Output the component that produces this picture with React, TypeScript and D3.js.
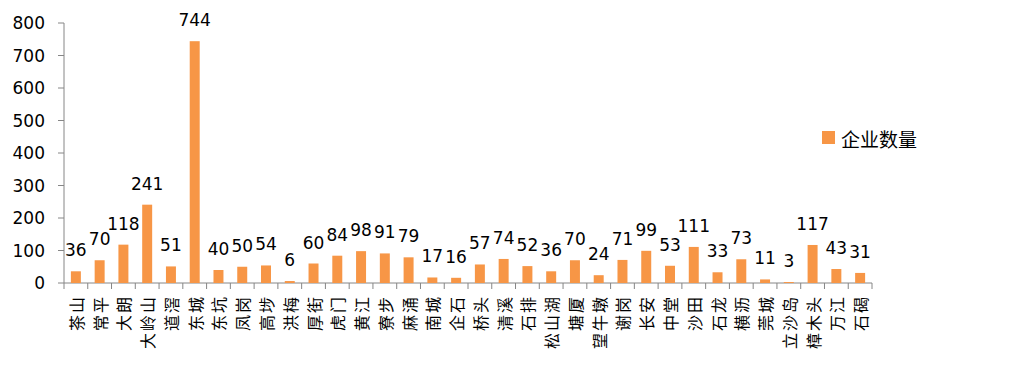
//@ts-nocheck
import React from "react";
import * as d3 from "d3";

const towns = [
  "茶山", "常平", "大朗", "大岭山", "道滘", "东城", "东坑", "凤岗", "高埗", "洪梅",
  "厚街", "虎门", "黄江", "寮步", "麻涌", "南城", "企石", "桥头", "清溪", "石排",
  "松山湖", "塘厦", "望牛墩", "谢岗", "长安", "中堂", "沙田", "石龙", "横沥", "莞城",
  "立沙岛", "樟木头", "万江", "石碣",
];
const counts = [
  36, 70, 118, 241, 51, 744, 40, 50, 54, 6,
  60, 84, 98, 91, 79, 17, 16, 57, 74, 52,
  36, 70, 24, 71, 99, 53, 111, 33, 73, 11,
  3, 117, 43, 31,
];
const yTicks = [0, 100, 200, 300, 400, 500, 600, 700, 800];
const seriesName = "企业数量";

const W = 1026;
const H = 365;
const left = 64;
const right = 872;
const top = 23;
const bottom = 283;
const barColor = "#F79646";
const axisColor = "#868686";
const numFont = "'DejaVu Sans', 'Noto Sans CJK SC', sans-serif";
const cjkFont = "'Noto Sans CJK SC', sans-serif";

export default function App() {
  const x = d3.scaleBand().domain(towns).range([left, right]).paddingInner(0.58).paddingOuter(0.29);
  const y = d3.scaleLinear().domain([0, 800]).range([bottom, top]);
  const step = (right - left) / towns.length;

  return (
    <svg
      width={W}
      height={H}
      style={{ position: "absolute", left: 0, top: 0, background: "#fff" }}
    >
      {/* y axis */}
      <line x1={left} x2={left} y1={top} y2={bottom} stroke={axisColor} strokeWidth={1} />
      {yTicks.map((t) => (
        <g key={t}>
          <line x1={left - 6} x2={left} y1={y(t)} y2={y(t)} stroke={axisColor} />
          <text
            x={left - 19}
            y={y(t)}
            textAnchor="end"
            dominantBaseline="central"
            fontFamily={numFont}
            fontSize={17}
            fill="#000"
          >
            {t}
          </text>
        </g>
      ))}

      {/* x axis */}
      <line x1={left} x2={right} y1={bottom} y2={bottom} stroke={axisColor} />
      {d3.range(towns.length + 1).map((i) => (
        <line
          key={i}
          x1={left + i * step}
          x2={left + i * step}
          y1={bottom}
          y2={bottom + 6}
          stroke={axisColor}
        />
      ))}

      {/* bars */}
      {towns.map((t, i) => (
        <rect
          key={t}
          x={x(t)}
          y={y(counts[i])}
          width={x.bandwidth()}
          height={bottom - y(counts[i])}
          fill={barColor}
        />
      ))}

      {/* value labels */}
      {towns.map((t, i) => (
        <text
          key={t}
          x={x(t) + x.bandwidth() / 2}
          y={y(counts[i]) - 15}
          textAnchor="middle"
          fontFamily={numFont}
          fontSize={17}
          fill="#000"
        >
          {counts[i]}
        </text>
      ))}

      {/* category labels */}
      {towns.map((t) => {
        const cx = x(t) + x.bandwidth() / 2;
        const cy = bottom + 12;
        return (
          <text
            key={t}
            transform={`translate(${cx},${cy}) rotate(-90)`}
            textAnchor="end"
            dominantBaseline="central"
            fontFamily={cjkFont}
            fontSize={16}
            letterSpacing={2}
            fill="#000"
          >
            {t}
          </text>
        );
      })}

      {/* legend */}
      <rect x={822} y={131} width={13} height={13} fill={barColor} />
      <text
        x={841}
        y={138}
        dominantBaseline="central"
        fontFamily={cjkFont}
        fontSize={19}
        fill="#000"
      >
        {seriesName}
      </text>
    </svg>
  );
}
